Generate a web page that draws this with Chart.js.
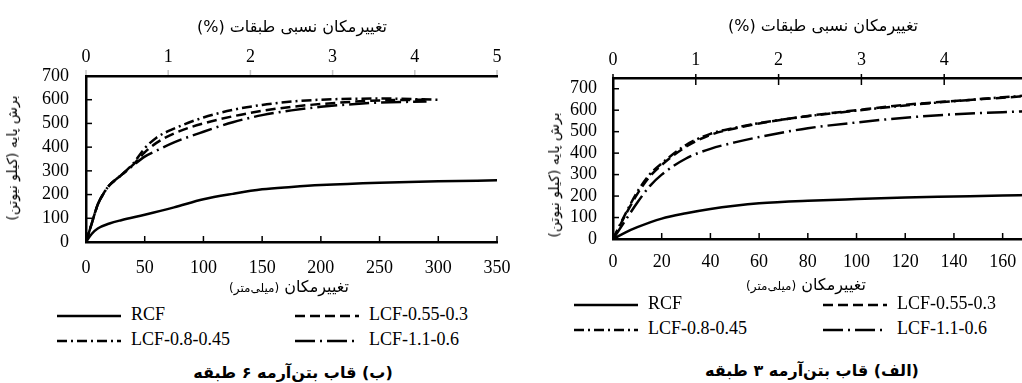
<!DOCTYPE html>
<html>
<head>
<meta charset="utf-8">
<script src="https://cdn.jsdelivr.net/npm/chart.js@4"></script>
<style>
  html, body { margin: 0; padding: 0; background: #fff; }
  #page { position: relative; width: 1022px; height: 383px; overflow: hidden; }
  canvas { position: absolute; }
  .fa { position: absolute; font-family: 'DejaVu Sans', sans-serif; direction: rtl; white-space: nowrap;
        transform: translate(-50%, -50%); color: #000; font-size: 16px; }
  .fa small { font-size: 12px; }
  .cap { font-weight: bold; font-size: 16px; }
  .yt { transform: translate(-50%, -50%) rotate(-90deg); font-size: 14px; }
  .lg { position: absolute; font-family: 'Liberation Serif', 'DejaVu Serif', 'Times New Roman', serif; font-size: 18px; color: #000;
        white-space: nowrap; line-height: 20px; height: 20px; }
  .lg svg { vertical-align: middle; margin-right: 10px; }
</style>
</head>
<body>
<div id="page">
  <canvas id="c6" width="530" height="280" style="left:0;top:0"></canvas>
  <canvas id="c3" width="530" height="280" style="left:520px;top:0"></canvas>

  <!-- 6 storey frame texts -->
  <div class="fa" style="left:292px;top:26px">تغییرمکان نسبی طبقات (%)</div>
  <div class="fa" style="left:289px;top:286px">تغییرمکان <small>(میلی‌متر)</small></div>
  <div class="fa yt" style="left:12px;top:158px">برش پایه (کیلو نیوتن)</div>
  <div class="fa cap" style="left:293px;top:372px">(ب) قاب بتن‌آرمه ۶ طبقه</div>

  <!-- 3 storey frame texts -->
  <div class="fa" style="left:823px;top:25px">تغییرمکان نسبی طبقات (%)</div>
  <div class="fa" style="left:806px;top:284px">تغییرمکان <small>(میلی‌متر)</small></div>
  <div class="fa yt" style="left:554px;top:175px">برش پایه (کیلو نیوتن)</div>
  <div class="fa cap" style="left:812px;top:370px">(الف) قاب بتن‌آرمه ۳ طبقه</div>

  <div id="legends"></div>
</div>

<script>
/* series names and dash styles */
const names = ['RCF', 'LCF-0.55-0.3', 'LCF-0.8-0.45', 'LCF-1.1-0.6'];
const dashes = [[], [10, 5], [10, 4, 2, 4], [20, 5, 2, 5]];

/* 6 storey frame (b) */
const rcf6X = [0, 5, 10, 20, 30, 50, 75, 100, 125, 150, 175, 200, 250, 300, 350];
const rcf6Y = [0, 35, 57, 78, 92, 115, 146, 180, 203, 222, 232, 240, 250, 256, 260];
const lcf6X = [0, 5, 10, 15, 20, 25, 30, 40, 50, 60, 75, 100, 125, 150, 175, 200, 250, 290];
const lcf6aY = [0, 80, 158, 205, 240, 262, 282, 325, 378, 418, 458, 500, 530, 553, 570, 582, 597, 600];
const lcf6bX = [0, 5, 10, 15, 20, 25, 30, 40, 50, 60, 75, 100, 125, 150, 175, 200, 250, 300];
const lcf6bY = [0, 80, 158, 205, 240, 262, 282, 330, 395, 440, 478, 525, 557, 578, 592, 600, 605, 600];
const lcf6cY = [0, 80, 158, 205, 240, 262, 282, 322, 360, 385, 420, 465, 505, 535, 555, 570, 588, 592];

/* 3 storey frame (a) */
const rcf3X = [0, 5, 10, 20, 30, 40, 50, 60, 80, 100, 120, 140, 160, 170];
const rcf3Y = [0, 30, 55, 95, 120, 140, 155, 166, 178, 186, 193, 198, 203, 205];
const lcf3X = [0, 5, 10, 15, 20, 30, 40, 50, 60, 80, 100, 120, 140, 160, 170];
const lcf3aY = [0, 110, 210, 290, 345, 430, 485, 515, 538, 573, 600, 625, 643, 658, 666];
const lcf3bY = [0, 115, 220, 300, 352, 438, 490, 518, 540, 572, 598, 622, 642, 660, 668];
const lcf3cY = [0, 85, 170, 245, 300, 375, 420, 450, 475, 516, 543, 565, 581, 591, 595];

Chart.defaults.font.family = "'Liberation Serif', 'DejaVu Serif', 'Times New Roman', serif";
Chart.defaults.font.size = 18;
Chart.defaults.color = '#000';

function series(i, xs, ys) {
  return {
    label: names[i],
    data: xs.map((x, k) => ({ x: x, y: ys[k] })),
    borderColor: '#000',
    borderDash: dashes[i],
    borderWidth: 2.5,
    fill: false,
    pointRadius: 0,
    cubicInterpolationMode: 'monotone'
  };
}

/* small tick marks drawn on the axes (inside the plot like the original) */
const axisTicks = {
  id: 'axisTicks',
  afterDraw(chart, args, o) {
    const { ctx, chartArea: a, scales } = chart;
    ctx.save();
    ctx.lineWidth = 1.5;
    const mark = (x1, y1, x2, y2, c) => {
      ctx.strokeStyle = c;
      ctx.beginPath(); ctx.moveTo(x1, y1); ctx.lineTo(x2, y2); ctx.stroke();
    };
    scales.x.ticks.forEach(t => {
      const p = scales.x.getPixelForValue(t.value);
      if (t.value > 0) mark(p, a.bottom, p, a.bottom - 6, '#000');
    });
    scales.y.ticks.forEach(t => {
      const p = scales.y.getPixelForValue(t.value);
      if (t.value > 0) mark(a.left, p, a.left + 6, p, '#000');
    });
    scales.x2.ticks.forEach(t => {
      const p = scales.x2.getPixelForValue(t.value);
      mark(p, a.top + o.from, p, a.top + o.to, o.color);
    });
    ctx.restore();
  }
};

function build(id, sets, g) {
  return new Chart(document.getElementById(id), {
    type: 'line',
    data: { datasets: sets },
    plugins: [axisTicks],
    options: {
      responsive: false,
      animation: false,
      layout: { padding: { right: g.padRight } },
      plugins: {
        legend: { display: false },
        tooltip: { enabled: false },
        axisTicks: g.topTick
      },
      scales: {
        x: {
          type: 'linear', position: 'bottom', min: 0, max: g.xMax,
          grid: { display: false },
          border: { color: '#000', width: 2.5 },
          ticks: { stepSize: g.xStep, padding: g.xPad, includeBounds: false, autoSkip: false, maxRotation: 0 },
          afterFit: s => { s.height = g.xH; s.paddingLeft = 0; s.paddingRight = 0; }
        },
        x2: {
          type: 'linear', axis: 'x', position: 'top', min: 0, max: 5,
          grid: { display: false },
          border: { color: '#000', width: 2.5 },
          ticks: { stepSize: 1, padding: g.topPad, autoSkip: false, maxRotation: 0 },
          afterFit: s => { s.height = g.topH; s.paddingLeft = 0; s.paddingRight = 0; }
        },
        y: {
          type: 'linear', position: 'left', min: 0, max: g.yMax,
          grid: { display: false },
          border: { color: '#000', width: 2.5 },
          ticks: { stepSize: 100, padding: g.yPad, includeBounds: false, autoSkip: false },
          afterFit: s => { s.width = g.yW; s.paddingTop = 0; s.paddingBottom = 0; }
        }
      }
    }
  });
}

build('c6', [
  series(0, rcf6X, rcf6Y),
  series(1, lcf6X, lcf6aY),
  series(2, lcf6bX, lcf6bY),
  series(3, lcf6X, lcf6cY)
], { xMax: 350, xStep: 50, yMax: 700, padRight: 33, xH: 38, topH: 76, yW: 86,
     xPad: 7, topPad: 0, yPad: 9, topTick: { from: -6, to: -1, color: '#c4c4c4' } });

build('c3', [
  series(0, rcf3X, rcf3Y),
  series(1, lcf3X, lcf3aY),
  series(2, lcf3X, lcf3bY),
  series(3, lcf3X, lcf3cY)
], { xMax: 170, xStep: 20, yMax: 750, padRight: 23, xH: 41, topH: 78, yW: 93,
     xPad: 4, topPad: -1, yPad: 8, topTick: { from: -4, to: 7, color: '#000' } });

/* legends: two columns, two rows under each chart */
const legendSpots = [
  { x: [57, 295], y: [314, 339] },
  { x: [574, 823], y: [303, 328] }
];
const box = document.getElementById('legends');
legendSpots.forEach(sp => {
  names.forEach((n, i) => {
    const d = document.createElement('div');
    d.className = 'lg';
    d.style.left = sp.x[i % 2] + 'px';
    d.style.top = (sp.y[Math.floor(i / 2)] - 10) + 'px';
    d.innerHTML = '<svg width="64" height="6"><line x1="0" y1="3" x2="64" y2="3" stroke="#000" stroke-width="2.5"' +
      (dashes[i].length ? ' stroke-dasharray="' + dashes[i].join(',') + '"' : '') + '/></svg>' + n;
    box.appendChild(d);
  });
});
</script>
</body>
</html>
